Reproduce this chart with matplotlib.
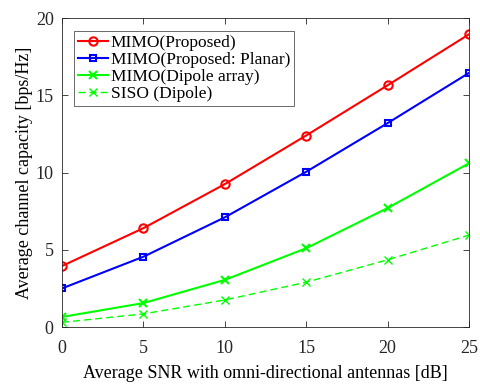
import matplotlib
matplotlib.use("Agg")
import matplotlib.pyplot as plt

snr_db = [0, 5, 10, 15, 20, 25]
mimo_proposed = [3.95, 6.4, 9.25, 12.4, 15.65, 18.95]
mimo_planar = [2.5, 4.55, 7.1, 10.05, 13.2, 16.45]
mimo_dipole = [0.65, 1.55, 3.05, 5.1, 7.7, 10.6]
siso_dipole = [0.3, 0.85, 1.75, 2.9, 4.35, 5.95]

plt.rcParams["font.family"] = ["Liberation Serif", "DejaVu Serif"]

fig = plt.figure(figsize=(4.81, 3.90), dpi=100)
ax = fig.add_axes([0.1289, 0.1615, 0.846, 0.792])

ax.plot(snr_db, mimo_proposed, color="#ff0000", lw=1.5, marker="o", ms=6,
        mfc="none", mew=1.5, label="MIMO(Proposed)")
ax.plot(snr_db, mimo_planar, color="#0000ff", lw=1.5, marker="s", ms=4.5,
        mfc="none", mew=1.5, label="MIMO(Proposed: Planar)")
ax.plot(snr_db, mimo_dipole, color="#00ff00", lw=1.5, marker="x", ms=6,
        mew=1.5, label="MIMO(Dipole array)")
ax.plot(snr_db, siso_dipole, color="#00ff00", lw=1.0, ls=(0, (5, 3)), marker="x",
        ms=6, mew=1.0, label="SISO (Dipole)")

ax.set_xlim(0, 25)
ax.set_ylim(0, 20)
ax.set_xticks([0, 5, 10, 15, 20, 25])
ax.set_yticks([0, 5, 10, 15, 20])
ax.tick_params(direction="in", top=True, right=True, labelsize=13, length=4,
               width=0.6, colors="#262626")
ax.tick_params(axis="x", pad=9.5)
ax.tick_params(axis="y", pad=6)
for s in ax.spines.values():
    s.set_linewidth(0.6)
    s.set_color("#262626")

ax.set_xlabel("Average SNR with omni-directional antennas [dB]", fontsize=13,
              labelpad=5.5)
ax.set_ylabel("Average channel capacity [bps/Hz]", fontsize=13, labelpad=2)

leg = ax.legend(loc="upper left", bbox_to_anchor=(0.0295, 0.958),
                borderaxespad=0, fontsize=12.5, frameon=True, fancybox=False,
                edgecolor="#262626", borderpad=0.22, labelspacing=0.05,
                handlelength=1.75, handletextpad=0.15)
leg.get_frame().set_linewidth(0.6)

fig.savefig("out.png", dpi=100)
